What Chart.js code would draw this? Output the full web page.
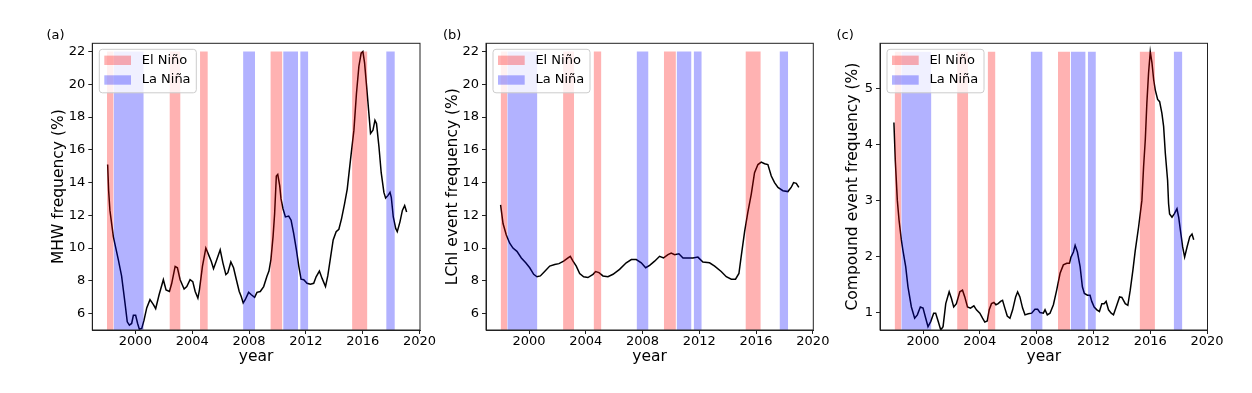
<!DOCTYPE html>
<html>
<head>
<meta charset="utf-8">
<title>ENSO event frequency</title>
<script src="https://cdn.jsdelivr.net/npm/chart.js@4/dist/chart.umd.min.js"></script>
<style>
    html, body { margin: 0; padding: 0; background: #fff; }
    #wrap { position: relative; width: 1252px; height: 393px; }
    #wrap canvas { position: absolute; left: 0; top: 0; }
</style>
</head>
<body>
<div id="wrap">
    <canvas id="chart-a" width="1252" height="393"></canvas>
    <canvas id="chart-b" width="1252" height="393"></canvas>
    <canvas id="chart-c" width="1252" height="393"></canvas>
</div>
<script>
const xTicks = [2000, 2004, 2008, 2012, 2016, 2020]

// ENSO periods (decimal years)
const elNinoStart = [1998.0, 2002.4, 2004.55, 2009.5, 2015.25]
const elNinoEnd = [1998.47, 2003.18, 2005.1, 2010.35, 2016.33]
const laNinaStart = [1998.47, 2007.58, 2010.4, 2011.6, 2017.65]
const laNinaEnd = [2000.59, 2008.42, 2011.45, 2012.17, 2018.26]

// (a) MHW frequency
const mhwYears = [1998.05, 1998.12, 1998.21, 1998.45, 1998.8, 1999.03, 1999.27, 1999.43, 1999.58, 1999.74, 1999.86, 2000.02, 2000.16, 2000.28, 2000.45, 2000.61, 2000.8, 2001.03, 2001.27, 2001.43, 2001.67, 2001.97, 2002.16, 2002.4, 2002.56, 2002.8, 2002.96, 2003.15, 2003.43, 2003.62, 2003.85, 2004.04, 2004.21, 2004.4, 2004.51, 2004.72, 2004.96, 2005.15, 2005.34, 2005.5, 2005.69, 2005.97, 2006.16, 2006.37, 2006.51, 2006.72, 2006.91, 2007.1, 2007.31, 2007.45, 2007.59, 2007.73, 2007.97, 2008.16, 2008.39, 2008.56, 2008.79, 2009.03, 2009.26, 2009.4, 2009.54, 2009.69, 2009.8, 2009.92, 2010.02, 2010.16, 2010.25, 2010.39, 2010.56, 2010.79, 2010.96, 2011.14, 2011.33, 2011.5, 2011.66, 2011.85, 2012.08, 2012.32, 2012.55, 2012.72, 2012.95, 2013.14, 2013.38, 2013.54, 2013.73, 2013.92, 2014.13, 2014.32, 2014.51, 2014.72, 2014.91, 2015.14, 2015.38, 2015.56, 2015.73, 2015.89, 2016.01, 2016.13, 2016.27, 2016.43, 2016.55, 2016.72, 2016.86, 2016.97, 2017.14, 2017.3, 2017.49, 2017.61, 2017.77, 2017.92, 2018.01, 2018.15, 2018.32, 2018.43, 2018.62, 2018.79, 2018.95, 2019.02, 2019.09]
const mhwValues = [15.1, 13.5, 12.3, 10.7, 9.3, 8.3, 6.65, 5.5, 5.3, 5.4, 5.9, 5.9, 5.4, 5.05, 5.1, 5.6, 6.35, 6.85, 6.55, 6.3, 7.15, 8.07, 7.45, 7.35, 7.85, 8.88, 8.8, 8.07, 7.5, 7.65, 8.07, 7.95, 7.35, 6.95, 7.45, 8.88, 10.0, 9.6, 9.2, 8.74, 9.2, 9.9, 9.1, 8.38, 8.5, 9.15, 8.8, 8.1, 7.35, 7.05, 6.65, 6.85, 7.3, 7.15, 7.0, 7.3, 7.35, 7.65, 8.28, 8.6, 9.3, 10.7, 12.1, 14.4, 14.5, 13.8, 13.0, 12.4, 11.9, 11.95, 11.7, 10.9, 9.9, 8.9, 8.1, 8.07, 7.85, 7.8, 7.85, 8.25, 8.6, 8.15, 7.65, 8.3, 9.4, 10.5, 11.0, 11.15, 11.8, 12.7, 13.6, 15.4, 17.2, 19.45, 21.1, 21.9, 22.0, 21.3, 19.9, 18.25, 17.0, 17.2, 17.8, 17.6, 16.2, 14.6, 13.4, 13.05, 13.2, 13.4, 13.1, 11.9, 11.2, 11.0, 11.6, 12.3, 12.6, 12.4, 12.2]

// (b) LChl event frequency
const lchlYears = [1998.0, 1998.17, 1998.4, 1998.64, 1998.87, 1999.15, 1999.46, 1999.77, 2000.05, 2000.33, 2000.56, 2000.8, 2001.1, 2001.46, 2001.81, 2002.11, 2002.44, 2002.75, 2002.91, 2003.1, 2003.33, 2003.57, 2003.85, 2004.15, 2004.51, 2004.69, 2004.93, 2005.21, 2005.56, 2005.92, 2006.38, 2006.85, 2007.21, 2007.56, 2007.91, 2008.22, 2008.5, 2008.85, 2009.2, 2009.48, 2009.79, 2010.02, 2010.26, 2010.56, 2010.85, 2011.2, 2011.55, 2011.9, 2012.25, 2012.72, 2013.08, 2013.54, 2013.9, 2014.25, 2014.55, 2014.79, 2014.95, 2015.19, 2015.42, 2015.66, 2015.89, 2016.13, 2016.36, 2016.6, 2016.83, 2017.07, 2017.3, 2017.54, 2017.89, 2018.24, 2018.47, 2018.64, 2018.83, 2019.01]
const lchlValues = [12.64, 11.5, 10.8, 10.3, 10.0, 9.8, 9.4, 9.1, 8.8, 8.4, 8.25, 8.3, 8.57, 8.9, 9.0, 9.05, 9.2, 9.4, 9.5, 9.2, 8.9, 8.45, 8.25, 8.2, 8.4, 8.57, 8.5, 8.3, 8.25, 8.4, 8.7, 9.1, 9.3, 9.3, 9.1, 8.8, 8.95, 9.2, 9.5, 9.4, 9.6, 9.7, 9.6, 9.65, 9.4, 9.4, 9.4, 9.45, 9.15, 9.1, 8.9, 8.57, 8.25, 8.1, 8.1, 8.45, 9.5, 11.0, 12.2, 13.3, 14.6, 15.1, 15.25, 15.15, 15.1, 14.4, 14.0, 13.7, 13.5, 13.45, 13.7, 14.0, 13.95, 13.7]

// (c) compound event frequency
const compYears = [1997.95, 1998.05, 1998.19, 1998.31, 1998.47, 1998.59, 1998.78, 1998.94, 1999.18, 1999.41, 1999.6, 1999.81, 2000.0, 2000.19, 2000.35, 2000.54, 2000.75, 2000.89, 2001.06, 2001.25, 2001.41, 2001.6, 2001.84, 2002.0, 2002.16, 2002.35, 2002.59, 2002.78, 2002.94, 2003.13, 2003.34, 2003.58, 2003.76, 2004.0, 2004.19, 2004.35, 2004.52, 2004.66, 2004.82, 2004.99, 2005.13, 2005.29, 2005.46, 2005.6, 2005.76, 2005.93, 2006.12, 2006.31, 2006.52, 2006.66, 2006.82, 2007.01, 2007.18, 2007.41, 2007.65, 2007.88, 2008.07, 2008.24, 2008.47, 2008.59, 2008.75, 2008.94, 2009.18, 2009.41, 2009.65, 2009.88, 2010.12, 2010.31, 2010.42, 2010.59, 2010.71, 2010.87, 2011.06, 2011.22, 2011.36, 2011.58, 2011.76, 2011.88, 2012.05, 2012.24, 2012.42, 2012.59, 2012.75, 2012.89, 2013.06, 2013.25, 2013.41, 2013.6, 2013.84, 2014.0, 2014.24, 2014.42, 2014.59, 2014.78, 2014.94, 2015.18, 2015.41, 2015.53, 2015.65, 2015.76, 2015.88, 2016.0, 2016.12, 2016.24, 2016.35, 2016.52, 2016.66, 2016.82, 2016.94, 2017.06, 2017.22, 2017.29, 2017.36, 2017.53, 2017.69, 2017.88, 2018.0, 2018.12, 2018.28, 2018.42, 2018.59, 2018.78, 2018.94, 2019.06]
const compValues = [4.39, 3.7, 3.0, 2.65, 2.3, 2.1, 1.82, 1.46, 1.1, 0.9, 0.96, 1.1, 1.08, 0.9, 0.75, 0.84, 0.99, 0.99, 0.85, 0.69, 0.75, 1.16, 1.37, 1.25, 1.1, 1.16, 1.37, 1.4, 1.28, 1.1, 1.08, 1.12, 1.05, 0.99, 0.9, 0.83, 0.85, 1.05, 1.16, 1.18, 1.14, 1.16, 1.2, 1.22, 1.08, 0.94, 0.9, 1.05, 1.28, 1.37, 1.28, 1.08, 0.96, 0.98, 0.99, 1.06, 1.06, 1.0, 0.99, 1.05, 0.96, 0.99, 1.14, 1.4, 1.7, 1.85, 1.88, 1.88, 1.99, 2.08, 2.2, 2.08, 1.82, 1.46, 1.34, 1.31, 1.31, 1.2, 1.1, 1.05, 1.02, 1.16, 1.16, 1.2, 1.05, 0.99, 0.96, 1.1, 1.28, 1.27, 1.16, 1.13, 1.4, 1.76, 2.1, 2.53, 3.0, 3.6, 4.08, 4.73, 5.27, 5.65, 5.45, 5.15, 4.97, 4.8, 4.76, 4.55, 4.32, 3.84, 3.36, 2.94, 2.76, 2.7, 2.76, 2.85, 2.7, 2.47, 2.17, 1.99, 2.17, 2.35, 2.4, 2.3]

const freqTicks = [6, 8, 10, 12, 14, 16, 18, 20, 22]
const compTicks = [1, 2, 3, 4, 5]

const ninoColor = 'rgba(255, 0, 0, 0.3)'
const ninaColor = 'rgba(0, 0, 255, 0.3)'
const axisColor = '#222'

const tickSize = 13
const titleSize = 15.5
const titleHalf = titleSize * 1.2 / 2

Chart.defaults.font.family = '"DejaVu Sans", sans-serif'
Chart.defaults.font.size = tickSize
Chart.defaults.color = '#000'

// panel boxes in page pixels
const panels = [
    { id: 'chart-a', letter: '(a)', letterX: 46.5, yTitle: 'MHW frequency (%)', years: mhwYears, values: mhwValues,
      yMin: 5.0, yMax: 22.5, yTicks: freqTicks, bandTop: 22, left: 92.3, right: 420, titleX: 59 },
    { id: 'chart-b', letter: '(b)', letterX: 443, yTitle: 'LChl event frequency (%)', years: lchlYears, values: lchlValues,
      yMin: 5.0, yMax: 22.5, yTicks: freqTicks, bandTop: 22, left: 486, right: 813.3, titleX: 453 },
    { id: 'chart-c', letter: '(c)', letterX: 836.5, yTitle: 'Compound event frequency (%)', years: compYears, values: compValues,
      yMin: 0.69, yMax: 5.8, yTicks: compTicks, bandTop: 5.65, left: 880, right: 1207.5, titleX: 853 }
]

const plotTop = 43.3
const plotBottom = 330
const xTitleY = 356.5


// Frame around the plot area (all four sides)
const framePlugin = {
    id: 'frame',
    afterDatasetsDraw(chart) {
        const { ctx, chartArea: a } = chart
        ctx.save()
        ctx.strokeStyle = axisColor
        ctx.lineWidth = 1
        ctx.strokeRect(a.left, a.top, a.right - a.left, a.bottom - a.top)
        ctx.restore()
    }
}


// Legend box drawn inside the plot, top left
const legendPlugin = {
    id: 'ensoLegend',
    afterDatasetsDraw(chart) {
        const { ctx, chartArea: a } = chart
        const x = a.left + 7
        const y = a.top + 6
        const items = [
            { label: 'El Niño', color: ninoColor },
            { label: 'La Niña', color: ninaColor }
        ]

        ctx.save()
        ctx.fillStyle = 'rgba(255, 255, 255, 0.8)'
        ctx.strokeStyle = '#cccccc'
        ctx.lineWidth = 1
        ctx.beginPath()
        ctx.roundRect(x, y, 97, 43.5, 3)
        ctx.fill()
        ctx.stroke()

        items.forEach((item, i) => {
            const cy = y + 11 + i * 19.7
            ctx.fillStyle = item.color
            ctx.fillRect(x + 5, cy - 4.7, 26.7, 9.4)
            ctx.fillStyle = '#000'
            ctx.font = tickSize + 'px "DejaVu Sans"'
            ctx.textBaseline = 'middle'
            ctx.textAlign = 'left'
            ctx.fillText(item.label, x + 42.4, cy)
        })
        ctx.restore()
    }
}


// Panel letter (a), (b), (c)
const letterPlugin = {
    id: 'panelLetter',
    afterDraw(chart) {
        const { ctx, chartArea: a } = chart
        const p = chart.options.plugins.panelLetter
        ctx.save()
        ctx.fillStyle = '#000'
        ctx.font = tickSize + 'px "DejaVu Sans"'
        ctx.textBaseline = 'middle'
        ctx.textAlign = 'left'
        ctx.fillText(p.text, p.x, a.top - 7.5)
        ctx.restore()
    }
}


const bandDataset = (label, start, end, top, color) => ({
    label: label,
    data: [{ x: start, y: top }, { x: end, y: top }],
    backgroundColor: color,
    borderColor: 'rgba(0, 0, 0, 0)',
    borderWidth: 0,
    pointRadius: 0,
    fill: 'start',
    tension: 0
})


const makeChart = (p) => {
    const bands = []
    elNinoStart.forEach((s, i) => bands.push(bandDataset('El Niño', s, elNinoEnd[i], p.bandTop, ninoColor)))
    laNinaStart.forEach((s, i) => bands.push(bandDataset('La Niña', s, laNinaEnd[i], p.bandTop, ninaColor)))

    const yPad = p.titleX - titleHalf
    const xBottom = xTitleY + titleHalf

    new Chart(document.getElementById(p.id), {
        type: 'line',
        data: {
            datasets: [
                ...bands,
                {
                    label: 'frequency',
                    data: p.years.map((x, i) => ({ x: x, y: p.values[i] })),
                    borderColor: '#000',
                    borderWidth: 1.5,
                    pointRadius: 0,
                    fill: false,
                    tension: 0
                }
            ]
        },
        options: {
            responsive: false,
            animation: false,
            events: [],
            layout: {
                padding: { left: yPad, right: 1252 - p.right, top: plotTop, bottom: 393 - xBottom }
            },
            plugins: {
                legend: { display: false },
                tooltip: { enabled: false },
                panelLetter: { text: p.letter, x: p.letterX }
            },
            scales: {
                x: {
                    type: 'linear',
                    min: 1996.97,
                    max: 2020.03,
                    afterBuildTicks: (s) => { s.ticks = xTicks.map(v => ({ value: v })) },
                    afterFit: (s) => { s.height = xBottom - plotBottom },
                    grid: { drawOnChartArea: false, drawTicks: true, tickLength: 4, tickColor: axisColor },
                    border: { display: true, color: axisColor },
                    ticks: { padding: 0, maxRotation: 0, callback: (v) => String(v) },
                    title: { display: true, text: 'year', padding: 0, font: { size: titleSize } }
                },
                y: {
                    type: 'linear',
                    min: p.yMin,
                    max: p.yMax,
                    afterBuildTicks: (s) => { s.ticks = p.yTicks.map(v => ({ value: v })) },
                    afterFit: (s) => { s.width = p.left - yPad },
                    grid: { drawOnChartArea: false, drawTicks: true, tickLength: 4, tickColor: axisColor },
                    border: { display: true, color: axisColor },
                    ticks: { padding: 3, callback: (v) => String(v) },
                    title: { display: true, text: p.yTitle, padding: 0, font: { size: titleSize } }
                }
            }
        },
        plugins: [framePlugin, legendPlugin, letterPlugin]
    })
}

panels.forEach(makeChart)
</script>
</body>
</html>
